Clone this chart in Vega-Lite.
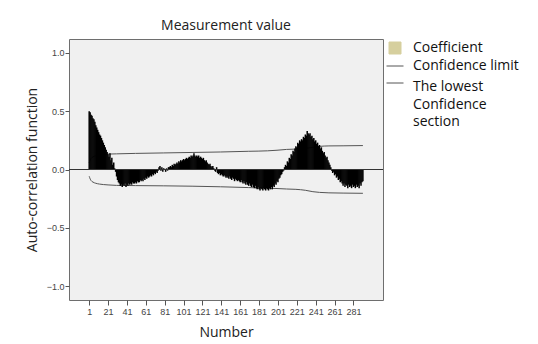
{
  "$schema": "https://vega.github.io/schema/vega-lite/v6.json",
  "width": 314,
  "height": 261,
  "autosize": {"type": "none"},
  "padding": {"left": 69, "top": 39, "right": 155, "bottom": 44},
  "background": "white",
  "title": {"text": "Measurement value", "fontSize": 14, "font": "Open Sans", "fontWeight": "normal", "color": "#222222", "offset": 6, "anchor": "middle"},
  "config": {
    "view": {"fill": "#f0f0f0", "stroke": "#6e6e6e", "strokeWidth": 1},
    "axis": {"grid": false, "domain": false, "tickColor": "#555555", "labelFont": "Liberation Sans", "labelFontSize": 9, "labelColor": "#444444", "titleFont": "Open Sans", "titleFontSize": 14, "titleFontWeight": "normal", "titleColor": "#222222", "labelOverlap": false, "labelBound": false},
    "axisX": {"labelOverlap": false, "labelFlush": false, "tickCount": 30}
  },
  "datasets": {
    "acf": [
      {"lag":1,"acf":0.50},{"lag":2,"acf":0.49},{"lag":3,"acf":0.47},{"lag":4,"acf":0.46},{"lag":5,"acf":0.44},{"lag":6,"acf":0.43},{"lag":7,"acf":0.41},{"lag":8,"acf":0.38},{"lag":9,"acf":0.36},{"lag":10,"acf":0.34},
      {"lag":11,"acf":0.32},{"lag":12,"acf":0.30},{"lag":13,"acf":0.29},{"lag":14,"acf":0.27},{"lag":15,"acf":0.25},{"lag":16,"acf":0.23},{"lag":17,"acf":0.21},{"lag":18,"acf":0.19},{"lag":19,"acf":0.17},{"lag":20,"acf":0.15},
      {"lag":21,"acf":0.13},{"lag":22,"acf":0.11},{"lag":23,"acf":0.14},{"lag":24,"acf":0.08},{"lag":25,"acf":0.10},{"lag":26,"acf":0.04},{"lag":27,"acf":0.06},{"lag":28,"acf":0.01},{"lag":29,"acf":-0.02},{"lag":30,"acf":-0.06},
      {"lag":31,"acf":-0.09},{"lag":32,"acf":-0.11},{"lag":33,"acf":-0.12},{"lag":34,"acf":-0.14},{"lag":35,"acf":-0.13},{"lag":36,"acf":-0.15},{"lag":37,"acf":-0.13},{"lag":38,"acf":-0.14},{"lag":39,"acf":-0.12},{"lag":40,"acf":-0.15},
      {"lag":41,"acf":-0.13},{"lag":42,"acf":-0.14},{"lag":43,"acf":-0.12},{"lag":44,"acf":-0.13},{"lag":45,"acf":-0.12},{"lag":46,"acf":-0.13},{"lag":47,"acf":-0.11},{"lag":48,"acf":-0.12},{"lag":49,"acf":-0.12},{"lag":50,"acf":-0.11},
      {"lag":51,"acf":-0.12},{"lag":52,"acf":-0.10},{"lag":53,"acf":-0.11},{"lag":54,"acf":-0.11},{"lag":55,"acf":-0.09},{"lag":56,"acf":-0.10},{"lag":57,"acf":-0.09},{"lag":58,"acf":-0.10},{"lag":59,"acf":-0.08},{"lag":60,"acf":-0.09},
      {"lag":61,"acf":-0.07},{"lag":62,"acf":-0.08},{"lag":63,"acf":-0.06},{"lag":64,"acf":-0.07},{"lag":65,"acf":-0.06},{"lag":66,"acf":-0.05},{"lag":67,"acf":-0.06},{"lag":68,"acf":-0.04},{"lag":69,"acf":-0.05},{"lag":70,"acf":-0.03},
      {"lag":71,"acf":-0.04},{"lag":72,"acf":-0.02},{"lag":73,"acf":-0.03},{"lag":74,"acf":-0.01},{"lag":75,"acf":0.02},{"lag":76,"acf":0.03},{"lag":77,"acf":-0.01},{"lag":78,"acf":0.02},{"lag":79,"acf":-0.02},{"lag":80,"acf":0.01},
      {"lag":81,"acf":0.00},{"lag":82,"acf":-0.02},{"lag":83,"acf":0.01},{"lag":84,"acf":-0.01},{"lag":85,"acf":0.02},{"lag":86,"acf":0.02},{"lag":87,"acf":0.03},{"lag":88,"acf":0.02},{"lag":89,"acf":0.04},{"lag":90,"acf":0.03},
      {"lag":91,"acf":0.05},{"lag":92,"acf":0.04},{"lag":93,"acf":0.05},{"lag":94,"acf":0.06},{"lag":95,"acf":0.05},{"lag":96,"acf":0.07},{"lag":97,"acf":0.06},{"lag":98,"acf":0.08},{"lag":99,"acf":0.07},{"lag":100,"acf":0.08},
      {"lag":101,"acf":0.09},{"lag":102,"acf":0.08},{"lag":103,"acf":0.09},{"lag":104,"acf":0.10},{"lag":105,"acf":0.09},{"lag":106,"acf":0.10},{"lag":107,"acf":0.11},{"lag":108,"acf":0.10},{"lag":109,"acf":0.12},{"lag":110,"acf":0.11},
      {"lag":111,"acf":0.12},{"lag":112,"acf":0.14},{"lag":113,"acf":0.12},{"lag":114,"acf":0.11},{"lag":115,"acf":0.12},{"lag":116,"acf":0.11},{"lag":117,"acf":0.12},{"lag":118,"acf":0.10},{"lag":119,"acf":0.11},{"lag":120,"acf":0.10},
      {"lag":121,"acf":0.09},{"lag":122,"acf":0.10},{"lag":123,"acf":0.08},{"lag":124,"acf":0.07},{"lag":125,"acf":0.08},{"lag":126,"acf":0.06},{"lag":127,"acf":0.05},{"lag":128,"acf":0.04},{"lag":129,"acf":0.05},{"lag":130,"acf":0.03},
      {"lag":131,"acf":0.02},{"lag":132,"acf":0.03},{"lag":133,"acf":0.01},{"lag":134,"acf":-0.01},{"lag":135,"acf":-0.02},{"lag":136,"acf":0.02},{"lag":137,"acf":-0.03},{"lag":138,"acf":-0.04},{"lag":139,"acf":-0.03},{"lag":140,"acf":-0.05},
      {"lag":141,"acf":-0.04},{"lag":142,"acf":-0.05},{"lag":143,"acf":-0.06},{"lag":144,"acf":-0.05},{"lag":145,"acf":-0.06},{"lag":146,"acf":-0.07},{"lag":147,"acf":-0.06},{"lag":148,"acf":-0.07},{"lag":149,"acf":-0.08},{"lag":150,"acf":-0.06},
      {"lag":151,"acf":-0.08},{"lag":152,"acf":-0.09},{"lag":153,"acf":-0.07},{"lag":154,"acf":-0.08},{"lag":155,"acf":-0.10},{"lag":156,"acf":-0.08},{"lag":157,"acf":-0.09},{"lag":158,"acf":-0.10},{"lag":159,"acf":-0.09},{"lag":160,"acf":-0.10},
      {"lag":161,"acf":-0.11},{"lag":162,"acf":-0.09},{"lag":163,"acf":-0.11},{"lag":164,"acf":-0.12},{"lag":165,"acf":-0.10},{"lag":166,"acf":-0.12},{"lag":167,"acf":-0.13},{"lag":168,"acf":-0.11},{"lag":169,"acf":-0.13},{"lag":170,"acf":-0.14},
      {"lag":171,"acf":-0.12},{"lag":172,"acf":-0.14},{"lag":173,"acf":-0.15},{"lag":174,"acf":-0.13},{"lag":175,"acf":-0.15},{"lag":176,"acf":-0.16},{"lag":177,"acf":-0.14},{"lag":178,"acf":-0.16},{"lag":179,"acf":-0.17},{"lag":180,"acf":-0.15},
      {"lag":181,"acf":-0.17},{"lag":182,"acf":-0.18},{"lag":183,"acf":-0.16},{"lag":184,"acf":-0.17},{"lag":185,"acf":-0.18},{"lag":186,"acf":-0.16},{"lag":187,"acf":-0.17},{"lag":188,"acf":-0.18},{"lag":189,"acf":-0.16},{"lag":190,"acf":-0.17},
      {"lag":191,"acf":-0.18},{"lag":192,"acf":-0.16},{"lag":193,"acf":-0.17},{"lag":194,"acf":-0.15},{"lag":195,"acf":-0.17},{"lag":196,"acf":-0.14},{"lag":197,"acf":-0.15},{"lag":198,"acf":-0.12},{"lag":199,"acf":-0.13},{"lag":200,"acf":-0.10},
      {"lag":201,"acf":-0.11},{"lag":202,"acf":-0.08},{"lag":203,"acf":-0.07},{"lag":204,"acf":-0.05},{"lag":205,"acf":-0.04},{"lag":206,"acf":-0.02},{"lag":207,"acf":-0.01},{"lag":208,"acf":0.02},{"lag":209,"acf":0.04},{"lag":210,"acf":0.03},
      {"lag":211,"acf":0.07},{"lag":212,"acf":0.06},{"lag":213,"acf":0.10},{"lag":214,"acf":0.09},{"lag":215,"acf":0.13},{"lag":216,"acf":0.12},{"lag":217,"acf":0.16},{"lag":218,"acf":0.15},{"lag":219,"acf":0.18},{"lag":220,"acf":0.20},
      {"lag":221,"acf":0.19},{"lag":222,"acf":0.23},{"lag":223,"acf":0.22},{"lag":224,"acf":0.25},{"lag":225,"acf":0.24},{"lag":226,"acf":0.26},{"lag":227,"acf":0.25},{"lag":228,"acf":0.28},{"lag":229,"acf":0.27},{"lag":230,"acf":0.30},
      {"lag":231,"acf":0.29},{"lag":232,"acf":0.33},{"lag":233,"acf":0.31},{"lag":234,"acf":0.30},{"lag":235,"acf":0.31},{"lag":236,"acf":0.28},{"lag":237,"acf":0.29},{"lag":238,"acf":0.26},{"lag":239,"acf":0.27},{"lag":240,"acf":0.24},
      {"lag":241,"acf":0.25},{"lag":242,"acf":0.22},{"lag":243,"acf":0.23},{"lag":244,"acf":0.20},{"lag":245,"acf":0.21},{"lag":246,"acf":0.18},{"lag":247,"acf":0.19},{"lag":248,"acf":0.16},{"lag":249,"acf":0.14},{"lag":250,"acf":0.15},
      {"lag":251,"acf":0.12},{"lag":252,"acf":0.10},{"lag":253,"acf":0.11},{"lag":254,"acf":0.08},{"lag":255,"acf":0.06},{"lag":256,"acf":0.04},{"lag":257,"acf":0.02},{"lag":258,"acf":-0.01},{"lag":259,"acf":-0.03},{"lag":260,"acf":-0.02},
      {"lag":261,"acf":-0.05},{"lag":262,"acf":-0.04},{"lag":263,"acf":-0.07},{"lag":264,"acf":-0.06},{"lag":265,"acf":-0.09},{"lag":266,"acf":-0.08},{"lag":267,"acf":-0.11},{"lag":268,"acf":-0.10},{"lag":269,"acf":-0.12},{"lag":270,"acf":-0.14},
      {"lag":271,"acf":-0.12},{"lag":272,"acf":-0.15},{"lag":273,"acf":-0.13},{"lag":274,"acf":-0.14},{"lag":275,"acf":-0.16},{"lag":276,"acf":-0.13},{"lag":277,"acf":-0.15},{"lag":278,"acf":-0.14},{"lag":279,"acf":-0.16},{"lag":280,"acf":-0.13},
      {"lag":281,"acf":-0.15},{"lag":282,"acf":-0.14},{"lag":283,"acf":-0.16},{"lag":284,"acf":-0.13},{"lag":285,"acf":-0.15},{"lag":286,"acf":-0.14},{"lag":287,"acf":-0.16},{"lag":288,"acf":-0.12},{"lag":289,"acf":-0.14},{"lag":290,"acf":-0.11},
      {"lag":291,"acf":-0.10}
    ],
    "limits": [
      {"lag":1,"limit":0.058,"series":"Confidence limit"},{"lag":2,"limit":0.08,"series":"Confidence limit"},{"lag":3,"limit":0.095,"series":"Confidence limit"},{"lag":5,"limit":0.108,"series":"Confidence limit"},{"lag":8,"limit":0.118,"series":"Confidence limit"},{"lag":12,"limit":0.125,"series":"Confidence limit"},{"lag":16,"limit":0.129,"series":"Confidence limit"},{"lag":21,"limit":0.132,"series":"Confidence limit"},{"lag":30,"limit":0.134,"series":"Confidence limit"},{"lag":50,"limit":0.138,"series":"Confidence limit"},{"lag":80,"limit":0.142,"series":"Confidence limit"},{"lag":110,"limit":0.146,"series":"Confidence limit"},{"lag":140,"limit":0.150,"series":"Confidence limit"},{"lag":170,"limit":0.156,"series":"Confidence limit"},{"lag":190,"limit":0.160,"series":"Confidence limit"},{"lag":200,"limit":0.165,"series":"Confidence limit"},{"lag":210,"limit":0.172,"series":"Confidence limit"},{"lag":220,"limit":0.175,"series":"Confidence limit"},{"lag":230,"limit":0.180,"series":"Confidence limit"},{"lag":238,"limit":0.190,"series":"Confidence limit"},{"lag":245,"limit":0.198,"series":"Confidence limit"},{"lag":255,"limit":0.202,"series":"Confidence limit"},{"lag":270,"limit":0.203,"series":"Confidence limit"},{"lag":291,"limit":0.205,"series":"Confidence limit"},
      {"lag":1,"limit":-0.058,"series":"The lowest Confidence section"},{"lag":2,"limit":-0.08,"series":"The lowest Confidence section"},{"lag":3,"limit":-0.095,"series":"The lowest Confidence section"},{"lag":5,"limit":-0.108,"series":"The lowest Confidence section"},{"lag":8,"limit":-0.118,"series":"The lowest Confidence section"},{"lag":12,"limit":-0.125,"series":"The lowest Confidence section"},{"lag":16,"limit":-0.129,"series":"The lowest Confidence section"},{"lag":21,"limit":-0.132,"series":"The lowest Confidence section"},{"lag":30,"limit":-0.136,"series":"The lowest Confidence section"},{"lag":50,"limit":-0.138,"series":"The lowest Confidence section"},{"lag":80,"limit":-0.140,"series":"The lowest Confidence section"},{"lag":110,"limit":-0.143,"series":"The lowest Confidence section"},{"lag":140,"limit":-0.148,"series":"The lowest Confidence section"},{"lag":170,"limit":-0.155,"series":"The lowest Confidence section"},{"lag":190,"limit":-0.160,"series":"The lowest Confidence section"},{"lag":200,"limit":-0.163,"series":"The lowest Confidence section"},{"lag":210,"limit":-0.167,"series":"The lowest Confidence section"},{"lag":220,"limit":-0.170,"series":"The lowest Confidence section"},{"lag":230,"limit":-0.178,"series":"The lowest Confidence section"},{"lag":238,"limit":-0.190,"series":"The lowest Confidence section"},{"lag":245,"limit":-0.196,"series":"The lowest Confidence section"},{"lag":255,"limit":-0.200,"series":"The lowest Confidence section"},{"lag":270,"limit":-0.202,"series":"The lowest Confidence section"},{"lag":291,"limit":-0.204,"series":"The lowest Confidence section"}
    ]
  },
  "layer": [
    {
      "data": {"name": "limits"},
      "mark": {"type": "line", "strokeWidth": 1, "interpolate": "monotone"},
      "encoding": {
        "x": {"field": "lag", "type": "quantitative", "scale": {"domain": [-15.1, 307], "nice": false, "zero": false},
              "axis": {"title": "Number", "values": [1,21,41,61,81,101,121,141,161,181,201,221,241,261,281], "tickCount": 30, "format": "d", "labelFlush": false, "labelOverlap": false, "tickSize": 5, "labelPadding": 2, "titlePadding": 9}},
        "y": {"field": "limit", "type": "quantitative", "scale": {"domain": [-1.118, 1.118], "nice": false, "zero": false},
              "axis": {"title": "Auto-correlation function", "values": [-1, -0.5, 0, 0.5, 1], "tickCount": 10, "format": ".1f", "tickSize": 4, "labelPadding": 1, "titlePadding": 7}},
        "color": {"field": "series", "type": "nominal",
                  "scale": {"domain": ["Coefficient", "Confidence limit", "The lowest Confidence section"], "range": ["#d6cf9e", "#555555", "#555555"]},
                  "legend": {"orient": "none", "legendX": 317, "legendY": 0, "title": null, "labelFont": "Open Sans", "labelFontSize": 14, "labelColor": "#111111", "labelLimit": 200, "rowPadding": 1, "labelOffset": 9,
                             "labelExpr": "datum.label == 'The lowest Confidence section' ? ['The lowest', 'Confidence', 'section'] : datum.label",
                             "encode": {
                               "symbols": {"update": {
                                 "shape": {"signal": "datum.value === 'Coefficient' ? 'square' : 'stroke'"},
                                 "fill": {"signal": "datum.value === 'Coefficient' ? '#d6cf9e' : 'transparent'"},
                                 "stroke": {"signal": "datum.value === 'Coefficient' ? '#8a8a8a' : '#666666'"},
                                 "strokeWidth": {"value": 1},
                                 "size": {"signal": "datum.value === 'Coefficient' ? 144 : 289"}
                               }},
                               "labels": {"update": {
                                 "lineHeight": {"value": 17.5},
                                 "dy": {"signal": "datum.value === 'The lowest Confidence section' ? 4 : 0"}
                               }}
                             }}}
      }
    },
    {
      "data": {"name": "acf"},
      "mark": {"type": "bar", "color": "#000000", "width": 1.5},
      "encoding": {
        "x": {"field": "lag", "type": "quantitative"},
        "y": {"field": "acf", "type": "quantitative"}
      }
    },
    {
      "data": {"values": [{}]},
      "mark": {"type": "rule", "color": "#333333", "strokeWidth": 1},
      "encoding": {"y": {"datum": 0}}
    }
  ]
}
